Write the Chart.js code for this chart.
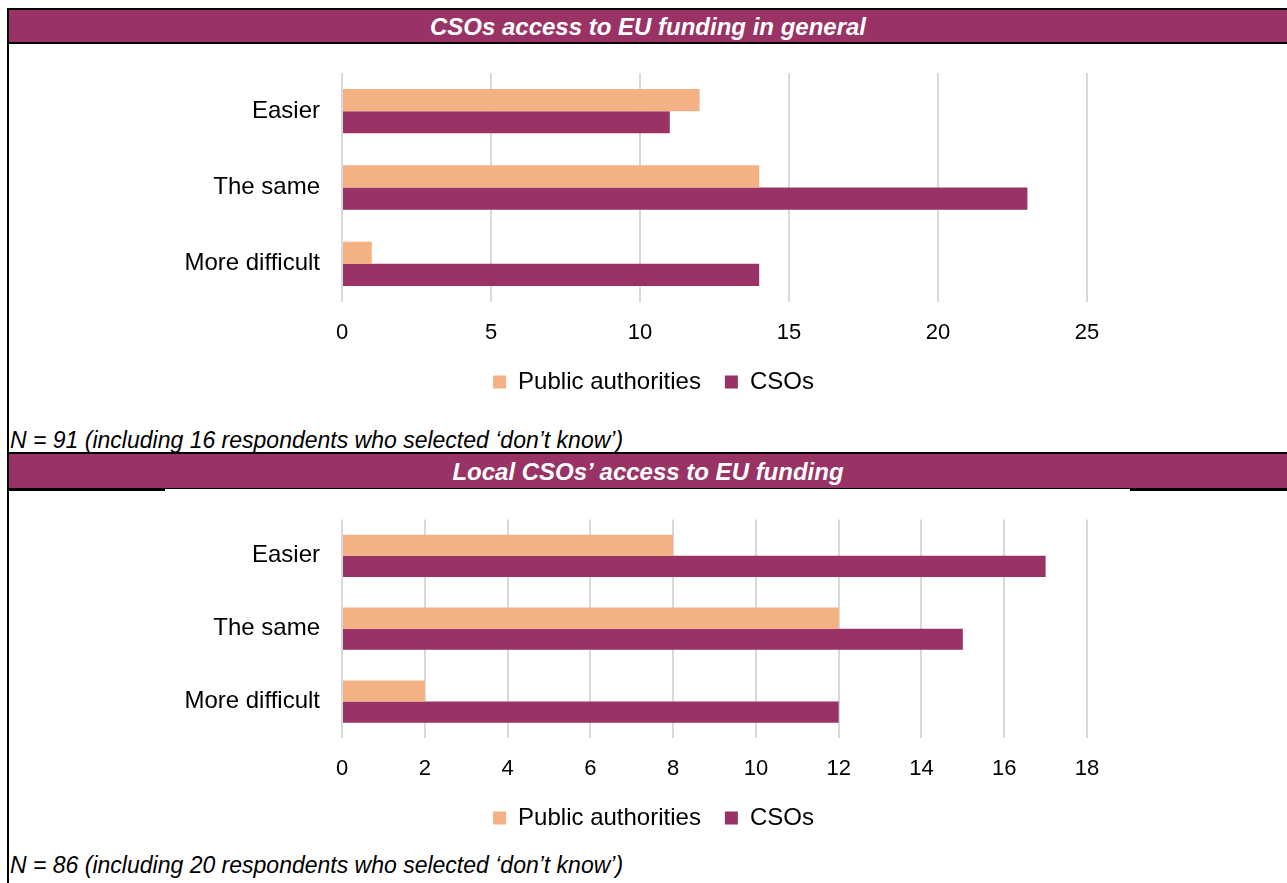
<!DOCTYPE html>
<html lang="en">
<head>
  <meta charset="UTF-8" />
  <title>CSOs access to EU funding</title>
  <script src="https://cdn.jsdelivr.net/npm/chart.js"></script>
  <style>
    body {
      margin: 0;
      width: 1287px;
      height: 883px;
      overflow: hidden;
      background: #fff;
      font-family: "Liberation Sans", Arial, sans-serif;
      position: relative;
    }
    .line { position: absolute; background: #000; }
    .bar {
      position: absolute;
      left: 9px;
      width: 1278px;
      background: #993366;
      color: #fff;
      font-weight: bold;
      font-style: italic;
      font-size: 24px;
      text-align: center;
    }
    .note {
      position: absolute;
      left: 10px;
      font-style: italic;
      font-size: 23px;
      line-height: 26px;
      color: #000;
      white-space: nowrap;
    }
    .chart-box { position: absolute; left: 0; width: 1287px; }
  </style>
</head>
<body>
  <div class="line" style="left:7px;top:8px;width:1280px;height:2px"></div>
  <div class="line" style="left:7px;top:8px;width:2px;height:875px"></div>

  <div class="bar" style="top:10px;height:32px;line-height:33px">CSOs access to EU funding in general</div>
  <div class="line" style="left:7px;top:42px;width:1280px;height:2px"></div>
  <div class="chart-box" style="top:44px;height:360px"><canvas id="chart1"></canvas></div>
  <div class="note" style="top:427px">N = 91 (including 16 respondents who selected ‘don’t know’)</div>

  <div class="line" style="left:7px;top:452px;width:1280px;height:2px"></div>
  <div class="bar" style="top:454px;height:34px;line-height:36px">Local CSOs’ access to EU funding</div>
  <div class="line" style="left:7px;top:488px;width:1280px;height:1px"></div>
  <div class="line" style="left:7px;top:488px;width:158px;height:3px"></div>
  <div class="line" style="left:1130px;top:488px;width:157px;height:3px"></div>
  <div class="chart-box" style="top:491px;height:349px"><canvas id="chart2"></canvas></div>
  <div class="note" style="top:852px">N = 86 (including 20 respondents who selected ‘don’t know’)</div>

  <script>
    const categories = ['Easier', 'The same', 'More difficult'];
    const seriesNames = ['Public authorities', 'CSOs'];

    // CSOs access to EU funding in general
    const generalPublic = [12, 14, 1];
    const generalCSOs = [11, 23, 14];
    const generalMax = 25;
    const generalStep = 5;

    // Local CSOs' access to EU funding
    const localPublic = [8, 12, 2];
    const localCSOs = [17, 15, 12];
    const localMax = 18;
    const localStep = 2;

    const orange = '#F4B183';
    const purple = '#993366';
    const fontFamily = '"Liberation Sans", Arial, sans-serif';

    // the legend sits centred under the whole page, not under the plot
    const legendShift = {
      id: 'legendShift',
      afterLayout(chart) {
        chart.legend.left += 25;
        chart.legend.right += 25;
      }
    };

    function makeChart(id, publicVals, csoVals, maxVal, step, padTop) {
      const ctx = document.getElementById(id).getContext('2d');
      return new Chart(ctx, {
        type: 'bar',
        data: {
          labels: categories,
          datasets: [
            { label: seriesNames[0], data: publicVals, backgroundColor: orange },
            { label: seriesNames[1], data: csoVals, backgroundColor: purple }
          ]
        },
        plugins: [legendShift],
        options: {
          indexAxis: 'y',
          responsive: true,
          maintainAspectRatio: false,
          animation: false,
          datasets: {
            bar: { barPercentage: 1, categoryPercentage: 0.58 }
          },
          layout: {
            padding: { left: 170, right: 200, top: padTop, bottom: 0 }
          },
          plugins: {
            legend: {
              position: 'bottom',
              labels: {
                boxWidth: 13,
                boxHeight: 13,
                padding: 24,
                color: '#000',
                font: { family: fontFamily, size: 24 }
              }
            },
            tooltip: { enabled: false }
          },
          scales: {
            x: {
              min: 0,
              max: maxVal,
              ticks: {
                stepSize: step,
                padding: 18,
                color: '#000',
                font: { family: fontFamily, size: 22 }
              },
              grid: { color: '#D9D9D9', lineWidth: 2, drawTicks: false },
              border: { display: false },
              afterFit: s => { s.height = 44; }
            },
            y: {
              ticks: {
                padding: 14,
                color: '#000',
                font: { family: fontFamily, size: 24 }
              },
              grid: { display: false },
              border: { display: false },
              afterFit: s => { s.width = 172; }
            }
          }
        }
      });
    }

    makeChart('chart1', generalPublic, generalCSOs, generalMax, generalStep, 29);
    makeChart('chart2', localPublic, localCSOs, localMax, localStep, 28);
  </script>
</body>
</html>
